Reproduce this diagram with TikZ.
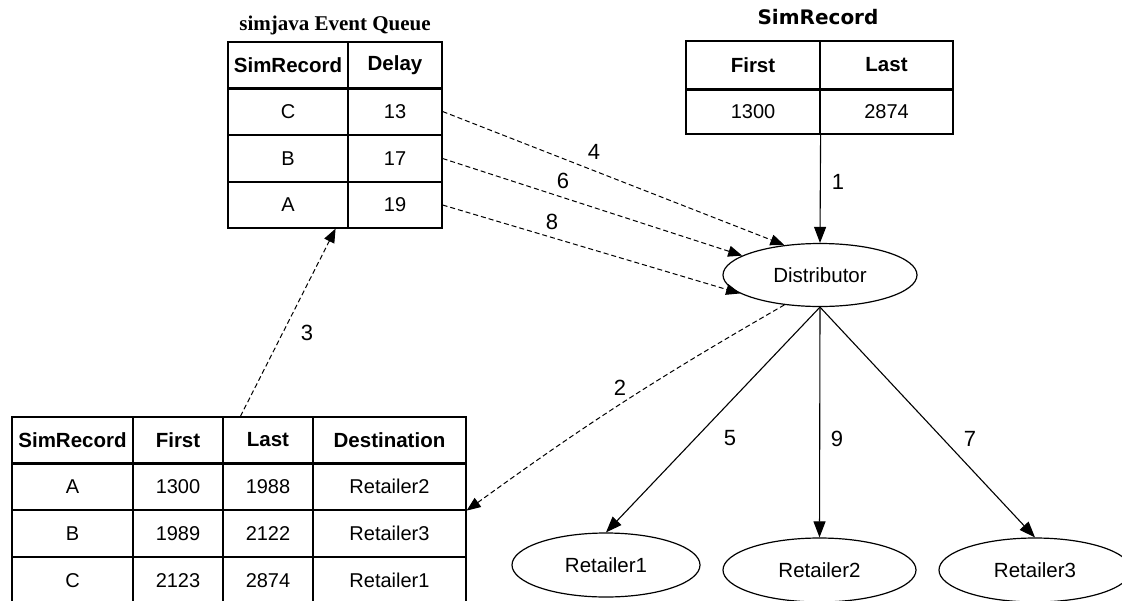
\documentclass[tikz,border=0pt]{standalone}
\usepackage{fontspec}
\setmainfont{Liberation Sans}
\newfontfamily\titleserif{Liberation Serif}
\newfontfamily\heavysans{DejaVu Sans}
\usetikzlibrary{arrows.meta,calc,shapes.geometric}
\begin{document}
\begin{tikzpicture}[x=1pt,y=-1pt,
 cell/.style={draw,line width=1.2pt,rectangle,inner sep=0pt,anchor=center,font=\fontsize{20}{22}\selectfont},
 hcell/.style={cell,font=\fontsize{20.5}{23}\selectfont\bfseries},
 oval/.style={draw,ellipse,line width=1.2pt,inner sep=0pt,font=\fontsize{20.5}{22}\selectfont},
 conn/.style={line width=1.1pt,-{Triangle[length=16pt,width=12pt]}},
 dconn/.style={line width=1pt,dash pattern=on 5pt off 3pt,-{Triangle[length=14pt,width=11pt]}},
 lbl/.style={font=\fontsize{22}{24}\selectfont,inner sep=0pt},
 sepline/.style={line width=3pt}
]
\useasboundingbox[fill=white] (0,0) rectangle (1122,600);

% simjava Event Queue
\node[font=\titleserif\bfseries\fontsize{21}{23}\selectfont,inner sep=0pt] (eqt) at (335,25) {simjava Event Queue};
\node[hcell,minimum width=120pt,minimum height=46pt] (eqh1) at (288,65) {SimRecord};
\node[hcell,minimum width=94pt,minimum height=46pt] (eqh2) at (395,65) {Delay};
\node[cell,minimum width=120pt,minimum height=47pt] (eqc1) at (288,111.5) {C};
\node[cell,minimum width=94pt,minimum height=47pt] (eqc2) at (395,111.5) {13};
\node[cell,minimum width=120pt,minimum height=47pt] (eqb1) at (288,158.5) {B};
\node[cell,minimum width=94pt,minimum height=47pt] (eqb2) at (395,158.5) {17};
\node[cell,minimum width=120pt,minimum height=46pt] (eqa1) at (288,205) {A};
\node[cell,minimum width=94pt,minimum height=46pt] (eqa2) at (395,205) {19};
\draw[sepline] (eqh1.south west) -- (eqh2.south east);

% SimRecord table
\node[font=\heavysans\bfseries\fontsize{20}{22}\selectfont,inner sep=0pt] (srt) at (818,17) {SimRecord};
\node[hcell,minimum width=134pt,minimum height=48pt] (srh1) at (753,65) {First};
\node[hcell,minimum width=133pt,minimum height=48pt] (srh2) at (886.5,65) {Last};
\node[cell,minimum width=134pt,minimum height=45pt] (srv1) at (753,111.5) {1300};
\node[cell,minimum width=133pt,minimum height=45pt] (srv2) at (886.5,111.5) {2874};
\draw[sepline] (srh1.south west) -- (srh2.south east);

% bottom table
\node[hcell,minimum width=121pt,minimum height=46pt] (bth1) at (72.5,440) {SimRecord};
\node[hcell,minimum width=90pt,minimum height=46pt] (bth2) at (178,440) {First};
\node[hcell,minimum width=90pt,minimum height=46pt] (bth3) at (268,440) {Last};
\node[hcell,minimum width=153pt,minimum height=46pt] (bth4) at (389.5,440) {Destination};
\node[cell,minimum width=121pt,minimum height=47pt] (bta1) at (72.5,486.5) {A};
\node[cell,minimum width=90pt,minimum height=47pt] (bta2) at (178,486.5) {1300};
\node[cell,minimum width=90pt,minimum height=47pt] (bta3) at (268,486.5) {1988};
\node[cell,minimum width=153pt,minimum height=47pt] (bta4) at (389.5,486.5) {Retailer2};
\node[cell,minimum width=121pt,minimum height=47pt] (btb1) at (72.5,533.5) {B};
\node[cell,minimum width=90pt,minimum height=47pt] (btb2) at (178,533.5) {1989};
\node[cell,minimum width=90pt,minimum height=47pt] (btb3) at (268,533.5) {2122};
\node[cell,minimum width=153pt,minimum height=47pt] (btb4) at (389.5,533.5) {Retailer3};
\node[cell,minimum width=121pt,minimum height=47pt] (btc1) at (72.5,580.5) {C};
\node[cell,minimum width=90pt,minimum height=47pt] (btc2) at (178,580.5) {2123};
\node[cell,minimum width=90pt,minimum height=47pt] (btc3) at (268,580.5) {2874};
\node[cell,minimum width=153pt,minimum height=47pt] (btc4) at (389.5,580.5) {Retailer1};
\draw[sepline] (bth1.south west) -- (bth4.south east);

% ellipses
\node[oval,minimum width=194pt,minimum height=63pt] (dist) at (820,275) {Distributor};
\node[oval,minimum width=188pt,minimum height=64pt] (r1) at (606,565) {Retailer1};
\node[oval,minimum width=193pt,minimum height=64pt] (r2) at (819.5,570) {Retailer2};
\node[oval,minimum width=192pt,minimum height=64pt] (r3) at (1035,570) {Retailer3};

% connectors
\draw[conn] (srv1.south east) -- (dist.north);
\draw[dconn] (eqc2.east) -- (dist.140);
\draw[dconn] (eqb2.east) -- (dist.166);
\draw[dconn] (eqa2.east) -- (dist.193);
\draw[dconn] (dist.220) to[bend right=3] (bta4.south east);
\coordinate (s3) at ($(bth3.north west)+(18,0)$);
\coordinate (e3) at ($(eqa1.south east)+(-13,0)$);
\draw[dconn] (s3) -- (e3);
\draw[conn] (dist.south) -- (r1.north);
\draw[conn] (dist.south) -- (r2.north);
\draw[conn] (dist.south) -- (r3.north);

% labels
\node[lbl] (l1) at (838,182) {1};
\node[lbl] (l2) at (620,388) {2};
\node[lbl] (l3) at (307,333) {3};
\node[lbl] (l4) at (594,152) {4};
\node[lbl] (l5) at (730,438) {5};
\node[lbl] (l6) at (563,181) {6};
\node[lbl] (l7) at (970,439) {7};
\node[lbl] (l8) at (552,222) {8};
\node[lbl] (l9) at (837,439) {9};
\end{tikzpicture}
\end{document}
